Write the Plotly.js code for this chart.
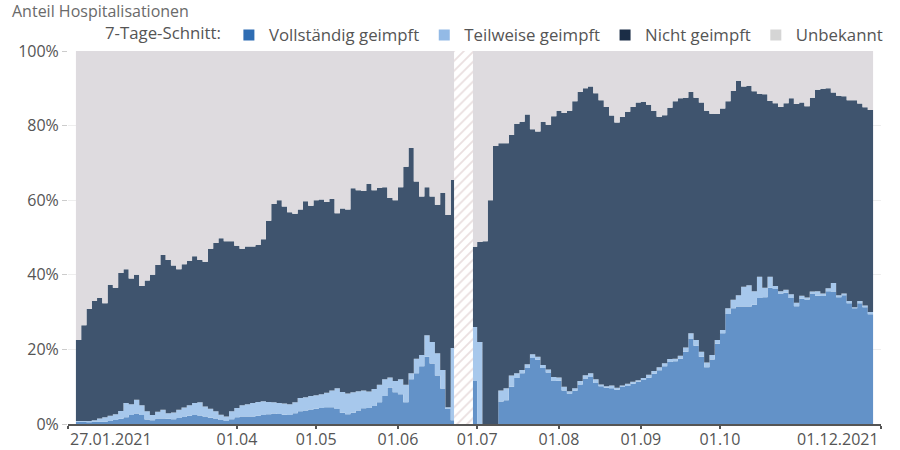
<!DOCTYPE html>
<html>
<head>
<meta charset="utf-8">
<script src="https://cdn.plot.ly/plotly-3.0.1.min.js"></script>
<style>html,body{margin:0;padding:0;background:#fff;}#chart{width:900px;height:450px;}</style>
</head>
<body>
<div id="chart"></div>
<script>
// ---- Data (7-Tage-Schnitt, Anteil in %, one value every 2 days from 30.01.2021) ----
const startDate = '2021-01-30';
const stepDays = 2;

const vollstaendig = [
  0.6,0.6,0.5,0.6,0.6,0.6,0.8,1.1,1.4,1.8,
  2.4,2.8,2.4,1.2,1.0,1.5,1.5,1.4,1.3,1.6,
  1.9,2.2,2.4,2.3,2.0,1.7,1.5,1.1,0.8,1.3,
  1.8,2.0,2.0,2.0,2.2,2.4,2.6,2.8,2.7,2.5,
  2.4,2.9,3.4,3.6,3.9,4.1,4.3,4.5,4.5,4.0,
  3.0,2.6,3.0,3.6,4.2,4.3,4.8,5.8,7.5,9.8,
  8.5,8.0,5.8,12.0,13.6,15.5,18.0,16.2,13.0,9.5,
  4.0,1.0,null,null,null,11.5,0,0,0,0,
  6.0,6.4,10.0,12.3,13.6,15.0,17.7,17.2,15.0,13.8,
  11.5,11.6,9.0,8.2,8.9,10.6,12.2,12.6,11.0,10.1,
  9.7,9.6,9.2,9.9,10.2,10.8,11.3,11.8,12.4,13.5,
  14.4,15.5,16.6,16.8,17.5,19.4,22.9,21.0,18.0,15.2,
  17.3,21.5,24.3,29.5,31.0,31.5,31.5,31.5,32.0,33.8,
  34.0,36.5,36.2,35.0,35.2,33.8,31.6,33.6,33.4,35.0,
  34.4,34.3,35.6,35.5,34.0,34.5,32.4,31.0,32.4,31.3,
  29.4,27.5
];
const teilweise = [
  0.2,0.2,0.3,0.4,0.9,1.2,1.4,1.5,2.1,3.8,
  2.9,3.7,2.6,2.2,1.4,1.8,2.3,1.5,1.8,2.2,
  2.5,2.8,3.2,3.5,2.7,2.4,1.9,1.4,1.2,2.1,
  2.5,3.0,3.3,3.6,3.7,3.7,3.3,3.0,2.9,3.0,
  2.9,2.9,3.6,3.6,3.6,3.6,3.7,3.9,4.5,5.6,
  5.6,5.6,5.5,5.2,4.8,4.4,4.6,4.7,4.5,2.7,
  3.0,4.0,4.7,1.6,3.9,3.0,5.8,5.8,6.0,5.0,
  0.5,19.4,null,null,null,14.5,22.0,0,0,0,
  3.0,3.2,3.0,1.3,0.9,1.0,1.0,0.8,0.8,0.8,
  1.1,0.9,1.0,0.6,0.7,0.9,0.9,1.0,1.0,0.5,
  0.4,0.7,0.5,0.4,0.6,0.5,0.4,0.5,0.8,0.7,
  0.8,0.8,0.8,0.7,0.8,1.1,1.4,1.5,1.4,1.3,
  1.2,1.0,0.9,1.5,2.3,3.0,5.3,5.7,3.6,5.7,
  2.5,3.0,0.8,0.6,0.8,1.0,0.9,0.8,0.5,0.5,
  1.2,0.7,0.8,2.3,0.5,0.5,0.6,0.3,0.6,0.5,
  0.6,0.5
];
const nichtGeimpft = [
  21.7,25.7,30.0,32.0,32.3,30.6,35.1,33.9,37.0,35.9,
  33.7,33.5,32.0,35.1,37.6,39.3,41.5,41.1,39.4,37.7,
  38.4,38.8,39.4,38.2,38.8,42.9,45.1,47.3,47.0,45.6,
  43.5,42.0,42.3,42.0,42.1,43.4,48.6,53.2,54.4,52.8,
  51.5,50.6,50.5,52.5,51.0,52.3,52.2,51.1,51.3,46.9,
  49.2,49.3,54.7,53.9,53.5,55.7,53.3,52.8,51.5,48.1,
  48.5,51.5,58.5,60.4,47.5,42.5,39.7,39.0,39.8,47.5,
  51.5,45.0,null,null,null,21.5,26.8,49.0,60.0,74.5,
  66.3,65.7,64.5,66.9,66.5,67.0,60.3,60.4,65.2,65.6,
  69.9,71.5,73.4,75.2,76.9,77.5,76.9,76.9,76.7,76.2,
  74.9,72.4,71.1,72.0,72.9,73.7,74.5,74.1,72.4,69.7,
  67.2,66.5,67.4,69.0,69.0,67.0,64.7,65.0,66.8,67.5,
  64.7,60.6,59.4,55.5,56.0,57.5,53.7,53.4,53.6,49.0,
  51.9,47.1,49.0,49.4,50.0,52.5,53.3,51.8,51.3,52.0,
  54.0,54.9,53.6,51.1,53.5,52.9,53.8,55.5,52.9,53.1,
  54.2,56.6
];

// period without data (hatched)
const gapPeriod = ['2021-06-22 06:00', '2021-06-29 10:00'];

const seriesNames = ['Vollständig geimpft', 'Teilweise geimpft', 'Nicht geimpft', 'Unbekannt'];
const tickDates = ['2021-01-27','2021-04-01','2021-05-01','2021-06-01','2021-07-01','2021-08-01','2021-09-01','2021-10-01','2021-12-01'];
const tickLabels = ['27.01.2021','01.04','01.05','01.06','01.07','01.08','01.09','01.10','01.12.2021'];
const yTicks = [0, 20, 40, 60, 80, 100];

// ---- Build ----
const dates = vollstaendig.map((_, i) => {
  const d = new Date(Date.parse(startDate + 'T00:00:00Z') + i * stepDays * 86400000);
  return d.toISOString().slice(0, 10);
});
const z = v => (v === null ? 0 : v);
const full = vollstaendig.map(z);
const part = teilweise.map(z);
const none = nichtGeimpft.map(z);
const unknown = vollstaendig.map((v, i) =>
  v === null ? 0 : Math.max(0, +(100 - full[i] - part[i] - none[i]).toFixed(1)));

const fillColors = ['#6392c8', '#a7c8ec', '#3f546e', '#dedbdf'];
const legendColors = ['#2f6db3', '#93bae6', '#1b2d46', '#d5d5d5'];
const vals = [full, part, none, unknown];

const traces = [];
vals.forEach((y, k) => {
  traces.push({
    type: 'scatter', mode: 'lines', x: dates, y: y,
    stackgroup: 'one', line: {width: 0, shape: 'hv'},
    fillcolor: fillColors[k], showlegend: false, hoverinfo: 'skip', name: seriesNames[k]
  });
});
// hatched no-data period
traces.push({
  type: 'scatter', mode: 'none',
  x: [gapPeriod[0], gapPeriod[0], gapPeriod[1], gapPeriod[1], gapPeriod[0]],
  y: [0, 100, 100, 0, 0],
  fill: 'toself', fillcolor: '#ffffff',
  fillpattern: {shape: '/', bgcolor: '#ffffff', fgcolor: '#eadfe0', size: 7, solidity: 0.25},
  showlegend: false, hoverinfo: 'skip'
});
// legend entries
seriesNames.forEach((n, k) => {
  traces.push({
    type: 'scatter', mode: 'markers', x: [null], y: [null], name: n,
    marker: {symbol: 'square', size: 11, color: legendColors[k]}, hoverinfo: 'skip'
  });
});

const fam = '"Open Sans", "Noto Sans", sans-serif';
const legFont = {family: fam, size: 16.8, color: '#555'};
const tickFont = {family: fam, size: 16, color: '#555'};

const layout = {
  width: 900, height: 450,
  paper_bgcolor: '#fff', plot_bgcolor: '#fff',
  margin: {l: 68, r: 19, t: 51, b: 26},
  font: legFont,
  showlegend: true,
  title: {text: 'Anteil Hospitalisationen', x: 12/900, xanchor: 'left', xref: 'container',
          y: 1 - 11/450, yanchor: 'middle', yref: 'container',
          font: {family: fam, size: 16, color: '#6a6a6a'}},
  legend: {orientation: 'h', traceorder: 'normal', x: 0.043, xanchor: 'left', y: 1.043, yanchor: 'middle',
           title: {text: '7-Tage-Schnitt:', side: 'left', font: legFont},
           font: legFont, itemclick: false, itemdoubleclick: false, bgcolor: 'rgba(0,0,0,0)'},
  xaxis: {
    type: 'date', range: [tickDates[0], tickDates[tickDates.length - 1]],
    tickmode: 'array', tickvals: tickDates,
    ticktext: tickLabels.map((t, i) => (i === 0 || i === tickLabels.length - 1) ? '' : t),
    showgrid: false, zeroline: false,
    showline: true, linecolor: '#555', linewidth: 2,
    ticks: 'outside', ticklen: 3, tickcolor: '#555', tickwidth: 1.5,
    ticklabelstandoff: -3,
    tickfont: tickFont, fixedrange: true
  },
  yaxis: {
    range: [0, 100], tickmode: 'array', tickvals: yTicks,
    ticktext: yTicks.map(v => v + '%'),
    showgrid: true, gridcolor: '#eeeeee', zeroline: false, showline: false,
    ticks: 'outside', ticklen: 5, tickcolor: '#cccccc',
    tickfont: tickFont, fixedrange: true
  },
  annotations: [
    {x: tickDates[0], xref: 'x', y: 0, yref: 'paper', yanchor: 'top', xanchor: 'left',
     yshift: -2, text: tickLabels[0], showarrow: false, font: tickFont},
    {x: tickDates[tickDates.length - 1], xref: 'x', y: 0, yref: 'paper', yanchor: 'top', xanchor: 'right',
     yshift: -2, text: tickLabels[tickLabels.length - 1], showarrow: false, font: tickFont}
  ],
  hovermode: false
};

Plotly.newPlot('chart', traces, layout, {displayModeBar: false, staticPlot: true});
</script>
</body>
</html>
